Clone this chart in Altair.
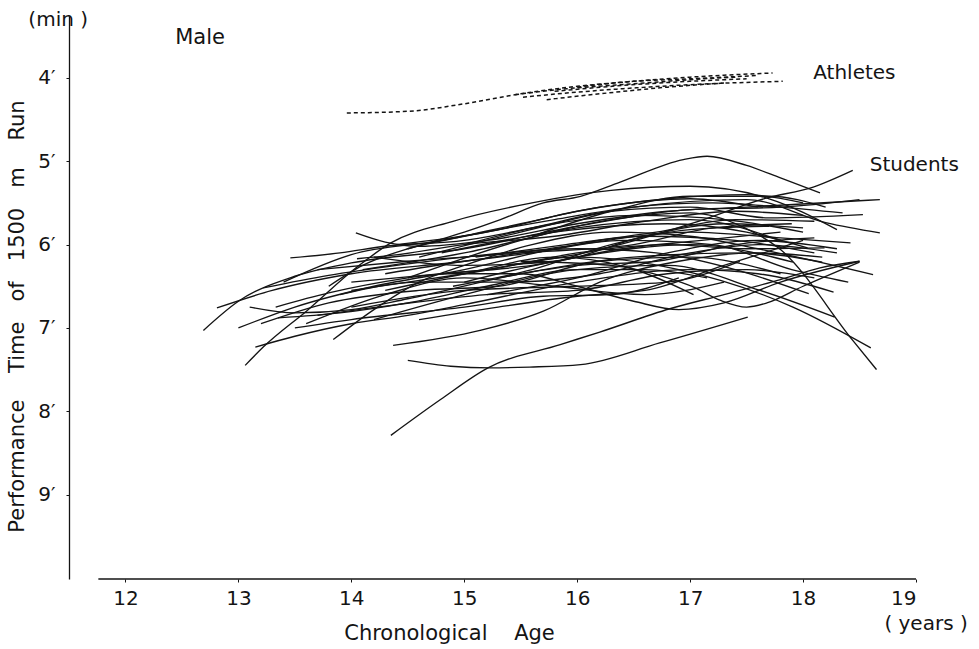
import altair as alt
import pandas as pd

# ---------------- data (age in years, time in minutes) ----------------
student_curves = [
    [(12.69,7.03),(13.0,6.68),(13.5,6.38),(14.0,6.22),(15.0,6.05),(16.0,5.78),(17.0,5.58),(17.8,5.55),(18.5,5.46)],
    [(12.81,6.76),(13.3,6.55),(14.0,6.35),(15.0,6.2),(16.0,6.0),(17.0,5.85),(17.8,5.92),(18.42,5.98)],
    [(13.06,7.45),(13.22,7.23),(13.61,6.79),(14.05,6.27),(14.35,5.98),(14.9,5.72),(15.6,5.5),(16.3,5.35),(17.0,5.3),(17.7,5.45),(18.3,5.82)],
    [(13.15,7.23),(13.5,7.10),(14.0,6.95),(14.5,6.85),(15.0,6.72),(16.0,6.45),(17.0,6.3),(17.6,6.35),(18.27,6.57)],
    [(13.10,6.75),(13.5,6.82),(14.0,6.78),(14.5,6.65),(15.5,6.35),(16.5,6.15),(17.5,6.1),(18.17,6.21)],
    [(13.46,6.16),(13.9,6.1),(14.3,6.02),(15.0,5.95),(15.6,5.8),(16.3,5.6),(17.0,5.55),(17.7,5.68),(18.53,5.64)],
    [(14.04,5.86),(14.3,5.97),(14.6,6.02),(15.2,5.95),(16.0,5.75),(16.8,5.6),(17.5,5.55),(18.68,5.46)],
    [(13.33,6.75),(13.8,6.58),(14.5,6.4),(15.3,6.28),(16.0,6.1),(16.8,6.0),(17.5,6.05),(18.19,6.04)],
    [(13.35,6.88),(13.9,6.82),(14.5,6.7),(15.2,6.5),(16.0,6.3),(16.6,6.3),(17.15,6.40)],
    [(13.84,7.14),(14.2,6.78),(14.6,6.45),(15.0,6.25),(15.6,6.0),(16.3,5.85),(17.0,5.9),(17.6,6.05),(18.62,6.36)],
    [(13.22,6.52),(13.8,6.37),(14.4,6.25),(15.0,6.15),(16.0,6.05),(16.7,6.1),(17.4,6.3),(18.05,6.59)],
    [(13.8,6.5),(14.1,6.25),(14.5,6.05),(15.0,5.9),(15.8,5.7),(16.5,5.55),(17.2,5.5),(17.8,5.55),(18.35,5.62)],
    [(14.37,7.21),(15.14,7.03),(15.7,6.8),(16.2,6.45),(16.9,6.2),(17.6,6.1),(18.17,6.15)],
    [(14.35,8.29),(14.79,7.86),(15.21,7.48),(15.85,7.2),(16.2,7.05),(16.82,6.77),(17.3,6.6),(17.8,6.42),(18.15,6.28),(18.5,6.2)],
    [(14.50,7.39),(14.88,7.46),(15.23,7.48),(15.58,7.47),(16.03,7.44),(16.73,7.18),(17.51,6.87)],
    [(14.8,6.35),(15.5,6.35),(16.0,6.5),(16.5,6.68),(16.9,6.78),(17.3,6.7),(17.8,6.45),(18.5,6.2)],
    [(15.5,6.2),(16.3,6.25),(16.8,6.4),(17.03,6.51),(17.27,6.67),(17.5,6.75),(17.68,6.7),(18.0,6.5),(18.5,6.21)],
    [(14.5,6.05),(15.0,5.85),(15.32,5.7),(15.7,5.5),(16.03,5.42),(16.38,5.25),(16.94,4.98),(17.15,4.94),(17.5,5.05),(17.8,5.2),(18.15,5.38)],
    [(15.4,6.25),(16.2,6.06),(17.03,5.74),(17.68,5.44),(18.09,5.31),(18.44,5.11)],
    [(14.2,6.9),(15.0,6.6),(16.0,6.3),(16.8,6.25),(17.62,6.55),(18.28,6.87)],
    [(14.0,6.55),(15.0,6.35),(16.0,6.15),(16.9,6.3),(17.91,6.75),(18.6,7.24)],
    [(14.5,6.4),(15.5,5.95),(16.3,5.7),(17.0,5.62),(17.47,5.79),(17.8,6.06),(18.44,7.15),(18.65,7.5)],
    [(14.3,6.55),(15.0,6.35),(15.8,6.15),(16.44,6.27),(17.03,6.6)],
    [(14.6,6.15),(15.5,5.85),(16.5,5.55),(17.5,5.46),(18.21,5.74),(18.68,5.86)],
    [(14.8,6.1),(15.8,5.85),(16.8,5.75),(17.5,5.85),(18.04,6.04)],
    [(15.0,6.45),(16.0,6.15),(17.0,6.0),(17.91,6.21)],
    [(13.6,6.95),(14.3,6.6),(15.0,6.4),(15.8,6.5),(16.6,6.6),(17.3,6.45)],
    [(14.1,6.3),(15.0,6.1),(16.0,5.8),(17.0,5.7),(17.8,5.95)],
    [(13.9,6.6),(14.6,6.45),(15.4,6.45),(16.2,6.35),(17.0,6.1),(17.6,6.0),(18.3,6.1)],
    [(14.0,6.75),(15.0,6.55),(16.0,6.5),(16.8,6.45),(17.44,6.2)],
    [(13.5,7.0),(14.0,6.9),(15.0,6.75),(15.7,6.62),(16.3,6.6),(16.9,6.4)],
    [(14.6,6.9),(15.3,6.75),(16.0,6.62),(16.6,6.55),(17.3,6.25),(18.0,5.95)],
    [(15.0,6.0),(15.8,5.75),(16.5,5.65),(17.3,5.7),(18.0,5.85)],
    [(14.4,6.0),(15.2,5.85),(16.0,5.6),(16.8,5.45),(17.5,5.4),(18.0,5.5)],
    [(15.6,5.9),(16.3,5.6),(17.0,5.42),(17.7,5.42),(18.2,5.55)],
    [(13.7,6.3),(14.5,6.2),(15.5,6.1),(16.5,6.0),(17.2,5.8),(17.9,5.75)],
    [(14.2,6.15),(15.0,6.25),(15.8,6.2),(16.6,5.9),(17.3,5.75),(18.0,5.8)],
    [(13.2,6.95),(13.8,6.7),(14.6,6.55),(15.3,6.5),(16.2,6.2),(17.0,6.15),(17.8,6.35)],
    [(15.2,6.6),(16.0,6.4),(16.8,6.1),(17.6,5.95),(18.3,6.05)],
    [(14.05,6.17),(14.35,6.13),(15.0,6.0),(15.8,5.9),(16.6,5.72),(17.4,5.6),(18.0,5.65)],
    [(13.0,7.0),(13.5,6.75),(14.2,6.5),(15.0,6.3),(15.8,6.05),(16.6,5.9),(17.4,5.95),(18.1,6.1)],
    [(14.3,6.35),(15.0,6.2),(15.6,6.1),(16.4,5.95),(17.2,6.0),(17.9,6.3),(18.4,6.45)],
    [(14.9,6.5),(15.6,6.3),(16.3,6.0),(17.0,5.82),(17.7,5.78)],
    [(13.4,6.45),(14.0,6.12),(14.8,5.95),(15.5,5.75),(16.2,5.55),(17.0,5.45),(17.6,5.55)],
    [(15.3,6.4),(16.0,6.25),(16.7,6.2),(17.4,6.0),(18.1,5.92)],
    [(14.0,6.45),(14.8,6.35),(15.6,6.25),(16.4,6.05),(17.1,5.95),(17.8,5.85)],
    [(15.1,6.15),(15.9,6.0),(16.7,5.85),(17.4,5.7),(18.1,5.72)],
    [(13.7,6.85),(14.4,6.72),(15.2,6.6),(16.0,6.55),(16.8,6.35),(17.5,6.3),(18.1,6.4)],
]

athlete_curves = [
    [(13.96,4.42),(14.5,4.40),(15.0,4.31),(15.5,4.19),(16.0,4.10),(16.5,4.04),(17.0,3.99),(17.73,3.94)],
    [(15.52,4.23),(16.0,4.17),(16.5,4.12),(17.0,4.08),(17.82,4.04)],
    [(15.73,4.26),(16.2,4.19),(16.8,4.11),(17.3,4.06)],
    [(15.45,4.20),(15.9,4.13),(16.5,4.07),(17.0,4.02),(17.4,3.99)],
    [(16.0,4.11),(16.5,4.04),(17.0,4.01),(17.6,3.97)],
    [(15.8,4.16),(16.4,4.09),(17.0,4.04),(17.5,4.01)],
]

x_ticks = [12, 13, 14, 15, 16, 17, 18, 19]
y_ticks = [4, 5, 6, 7, 8, 9]

annot_labels = ["(min )", "Male", "Athletes", "Students", "( years )"]
annot_age = [11.14, 12.44, 18.09, 18.59, 18.72]
annot_time = [3.30, 3.52, 3.94, 5.04, 10.56]
annot_size = [20, 21, 20, 20, 20]

AGE_DOMAIN = [11.5, 19.0]
TIME_DOMAIN = [3.256, 10.014]
X_AXIS_START = 11.76

# ---------------- tables ----------------
def to_frame(curves, group):
    rows = []
    for i, c in enumerate(curves):
        for j, (a, t) in enumerate(c):
            rows.append({"id": f"{group}{i}", "order": j, "age": a, "time": t})
    return pd.DataFrame(rows)

students = to_frame(student_curves, "s")
athletes = to_frame(athlete_curves, "a")
annots = pd.DataFrame({"age": annot_age, "time": annot_time,
                       "label": annot_labels, "fs": annot_size})
axis_line = pd.DataFrame({"age": [X_AXIS_START], "age2": [AGE_DOMAIN[1]],
                          "time": [TIME_DOMAIN[1]]})

FONT = "DejaVu Sans"
INK = "#141414"
NB = "\u00a0"
Y_TITLE = (f"Performance{NB*4}Time{NB*3}of{NB*3}1500{NB*3}m{NB*4}Run")

x_enc = alt.X("age:Q",
              scale=alt.Scale(domain=AGE_DOMAIN, nice=False, zero=False),
              axis=alt.Axis(values=x_ticks, domain=False, grid=False,
                            tickSize=3, tickColor=INK, labelPadding=6,
                            labelFont=FONT, labelFontSize=20, labelColor=INK,
                            title=f"Chronological{NB*4}Age",
                            titleFont=FONT, titleFontSize=21, titleFontWeight="normal",
                            titleColor=INK, titleAlign="center", titleAnchor="start",
                            titleX=380, titleY=60, titleBaseline="alphabetic"))
y_enc = alt.Y("time:Q",
              scale=alt.Scale(domain=TIME_DOMAIN, reverse=True, nice=False, zero=False),
              axis=alt.Axis(values=y_ticks, grid=False, domain=True,
                            domainColor=INK, domainWidth=1.3,
                            tickSize=3, tickColor=INK, labelPadding=11,
                            labelExpr="datum.value + '\u2032'",
                            labelFont=FONT, labelFontSize=20, labelColor=INK,
                            title=Y_TITLE,
                            titleFont=FONT, titleFontSize=21, titleFontWeight="normal",
                            titleColor=INK, titleAngle=270, titleAlign="center",
                            titleBaseline="middle", titleX=-52, titleY=300,
                            titleAnchor="start"))

student_layer = alt.Chart(students).mark_line(
    interpolate="monotone", color=INK, strokeWidth=1.35
).encode(x=x_enc, y=y_enc, detail="id:N", order="order:Q")

athlete_layer = alt.Chart(athletes).mark_line(
    interpolate="monotone", color=INK, strokeWidth=1.5, strokeDash=[4, 3]
).encode(x=x_enc, y=y_enc, detail="id:N", order="order:Q")

xaxis_layer = alt.Chart(axis_line).mark_rule(color=INK, strokeWidth=1.3).encode(
    x=x_enc, x2="age2:Q", y=y_enc)

text_layer = alt.Chart(annots).mark_text(
    align="left", baseline="middle", font=FONT, color=INK
).encode(x=x_enc, y=y_enc, text="label:N", size=alt.Size("fs:Q", scale=None))

chart = alt.layer(student_layer, athlete_layer, xaxis_layer, text_layer).properties(
    width=847, height=563,
    autosize=alt.AutoSizeParams(type="none"),
    padding={"left": 69, "top": 16, "right": 63, "bottom": 70},
    background="white",
).configure_view(stroke=None)

chart.save("out.html", embed_options={"renderer": "svg", "actions": False})
